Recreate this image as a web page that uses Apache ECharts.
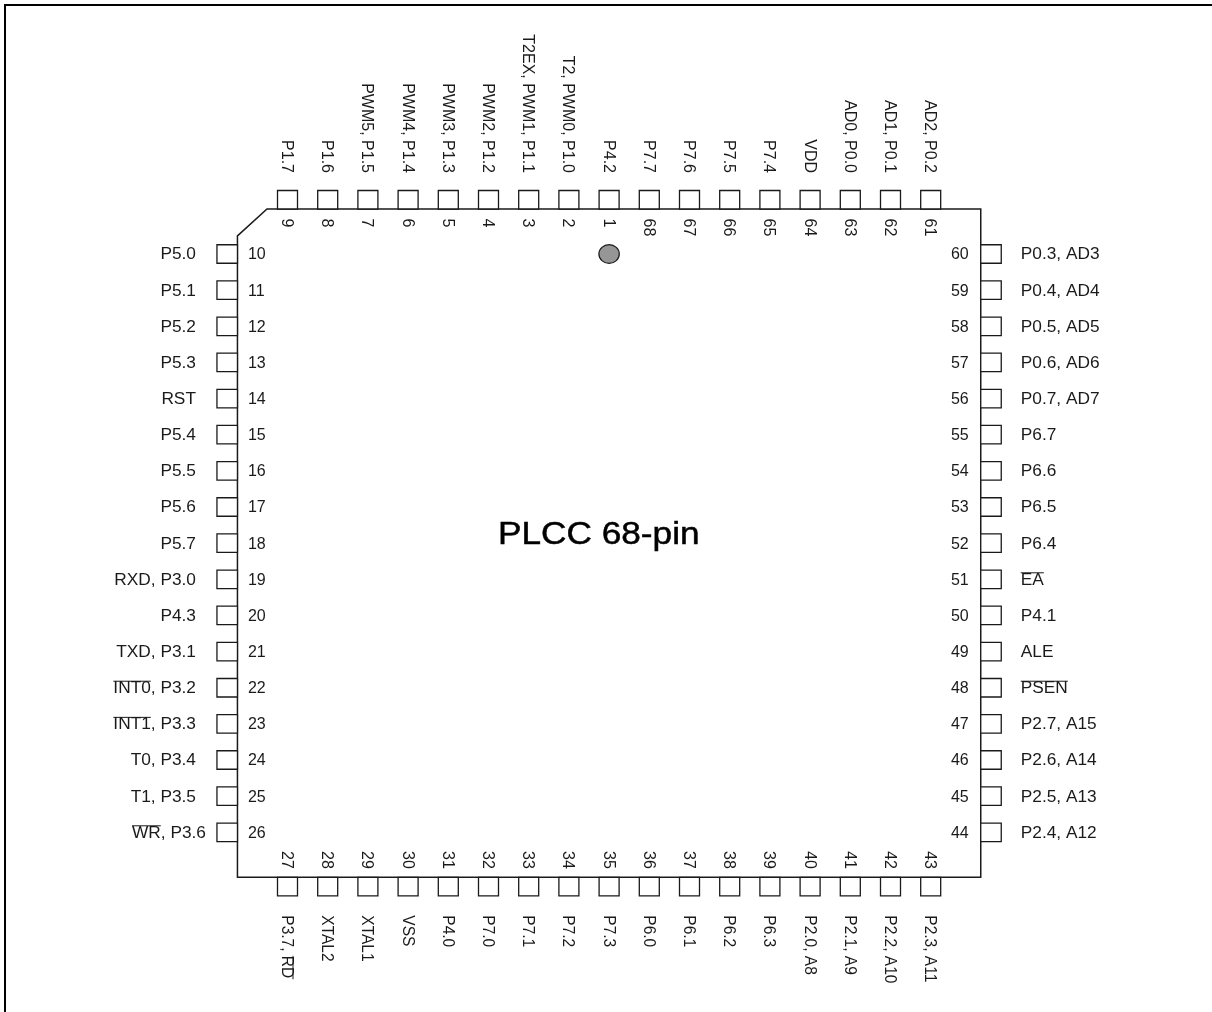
<!DOCTYPE html>
<html><head><meta charset="utf-8">
<style>html,body{margin:0;padding:0;background:#fff}#c{width:1212px;height:1012px}</style>
<script src="https://cdn.jsdelivr.net/npm/echarts@6/dist/echarts.min.js"></script>
</head><body><div id="c"></div>
<script>
// Pins per side, in slot order (~ marks an overbar)
const topNumbers = [9,8,7,6,5,4,3,2,1,68,67,66,65,64,63,62,61];
const topNames = ['P1.7','P1.6','PWM5, P1.5','PWM4, P1.4','PWM3, P1.3','PWM2, P1.2','T2EX, PWM1, P1.1','T2, PWM0, P1.0','P4.2','P7.7','P7.6','P7.5','P7.4','VDD','AD0, P0.0','AD1, P0.1','AD2, P0.2'];
const leftNumbers = [10,11,12,13,14,15,16,17,18,19,20,21,22,23,24,25,26];
const leftNames = ['P5.0','P5.1','P5.2','P5.3','RST','P5.4','P5.5','P5.6','P5.7','RXD, P3.0','P4.3','TXD, P3.1','~INT0~, P3.2','~INT1~, P3.3','T0, P3.4','T1, P3.5','~WR~, P3.6'];
const bottomNumbers = [27,28,29,30,31,32,33,34,35,36,37,38,39,40,41,42,43];
const bottomNames = ['P3.7, ~RD~','XTAL2','XTAL1','VSS','P4.0','P7.0','P7.1','P7.2','P7.3','P6.0','P6.1','P6.2','P6.3','P2.0, A8','P2.1, A9','P2.2, A10','P2.3, A11'];
const rightNumbers = [60,59,58,57,56,55,54,53,52,51,50,49,48,47,46,45,44];
const rightNames = ['P0.3, AD3','P0.4, AD4','P0.5, AD5','P0.6, AD6','P0.7, AD7','P6.7','P6.6','P6.5','P6.4','~EA~','P4.1','ALE','~PSEN~','P2.7, A15','P2.6, A14','P2.5, A13','P2.4, A12'];
const chipTitle = 'PLCC 68-pin';
const bodyMin = -1.245, bodyMax = 17.245;   // package outline in pin-slot units
const outlineX = [-0.51, 17.245, 17.245, -1.245, -1.245];
const outlineY = [-1.245, -1.245, 17.245, 17.245, -0.5];
const pinOneMark = [8, 0];

const INK = '#1a1a1a', FONT = '16px "Liberation Sans", Arial, sans-serif';
const H_SCALE = 1.08, B_SCALE = 0.97;
const ctx = document.createElement('canvas').getContext('2d');
ctx.font = FONT;
const tw = s => ctx.measureText(s).width;

const pins = [];
const addSide = (side, nums, names) => nums.forEach((n, i) => {
  const anchor = side === 'top' ? [i, bodyMin] : side === 'bottom' ? [i, bodyMax]
               : side === 'left' ? [bodyMin, i] : [bodyMax, i];
  pins.push({ side, number: String(n), name: names[i], value: anchor });
});
addSide('top', topNumbers, topNames);
addSide('left', leftNumbers, leftNames);
addSide('bottom', bottomNumbers, bottomNames);
addSide('right', rightNumbers, rightNames);

function label(text, x, y, rot, align, scale) {
  return { type: 'text', x, y, rotation: rot ? -Math.PI / 2 : 0, scaleX: scale,
    style: { text, x: 0, y: 0, font: FONT, fill: INK, align, verticalAlign: 'middle' } };
}
// name split at ~ marks: plain text and the overbar's extent along the reading direction
function parseName(raw) {
  const parts = raw.split('~');
  const text = parts.join('');
  if (parts.length < 3) return { text };
  return { text, from: tw(parts[0]), to: tw(parts[0] + parts[1]), total: tw(text) };
}
const line = (x1, y1, x2, y2, w) => ({ type: 'line', shape: { x1, y1, x2, y2 },
  style: { stroke: INK, lineWidth: w || 1, fill: null } });

function renderPin(params, api) {
  const p = pins[params.dataIndex];
  const [x, y] = api.coord([api.value(0), api.value(1)]);
  const n = parseName(p.name), kids = [];
  const pad = (a, b, w, h) => ({ type: 'rect', shape: { x: a, y: b, width: w, height: h },
    style: { fill: '#fff', stroke: INK, lineWidth: 1.3 } });
  if (p.side === 'top') {
    kids.push(pad(x - 10, y - 18.5, 20, 18.5));
    kids.push(label(n.text, x - 1, y - 36, true, 'right', 1));
    kids.push(label(p.number, x - 1, y + 9.5, true, 'left', 1));
  } else if (p.side === 'bottom') {
    kids.push(pad(x - 10, y, 20, 18.5));
    kids.push(label(n.text, x - 1, y + 38, true, 'left', B_SCALE));
    kids.push(label(p.number, x - 1, y - 8.5, true, 'right', 1));
    if (n.to) kids.push(line(x + 5.5, y + 38 + n.from * B_SCALE, x + 5.5, y + 38 + n.to * B_SCALE + 1));
  } else if (p.side === 'left') {
    const end = x - 41.5 + (p.number === '26' ? 10 : 0);
    kids.push(pad(x - 20.5, y - 9.25, 20.5, 18.5));
    kids.push(label(n.text, end, y + 1, false, 'right', H_SCALE));
    kids.push(label(p.number, x + 10.5, y + 1, false, 'left', 1));
    if (n.to) {
      const s = end - n.total * H_SCALE;
      kids.push(line(s + n.from * H_SCALE, y - 6.5, s + n.to * H_SCALE, y - 6.5));
    }
  } else {
    kids.push(pad(x, y - 9.25, 20.5, 18.5));
    kids.push(label(n.text, x + 40, y + 1, false, 'left', H_SCALE));
    kids.push(label(p.number, x - 12, y + 1, false, 'right', 1));
    if (n.to) kids.push(line(x + 40 + n.from * H_SCALE, y - 6.5, x + 40 + n.to * H_SCALE, y - 6.5));
  }
  return { type: 'group', children: kids };
}

const chart = echarts.init(document.getElementById('c'), null, { renderer: 'canvas' });
chart.setOption({
  animation: false,
  backgroundColor: '#fff',
  grid: { left: 287.5, top: 254, width: 643.2, height: 578.3 },
  xAxis: { type: 'value', min: 0, max: 16, show: false },
  yAxis: { type: 'value', min: 0, max: 16, inverse: true, show: false },
  graphic: [{ type: 'polyline', silent: true, z: 10,
    shape: { points: [[5, 1012], [5, 5], [1212, 5]] },
    style: { stroke: '#000', lineWidth: 2, fill: null } },
    { type: 'text', silent: true, z: 10, x: 498, y: 535, scaleX: 1.1,
      style: { text: chipTitle, font: '32px "Liberation Sans", Arial, sans-serif', fill: '#000',
               stroke: '#000', lineWidth: 0.5, align: 'left', verticalAlign: 'middle' } }],
  series: [
    { type: 'custom', silent: true, coordinateSystem: 'cartesian2d', z: 1,
      data: outlineX.map((v, i) => [v, outlineY[i]]),
      renderItem(params, api) {
        if (params.dataIndex !== 0) return null;
        const pts = outlineX.map((v, i) => api.coord([v, outlineY[i]]));
        return { type: 'polygon', shape: { points: pts },
                 style: { fill: '#fff', stroke: INK, lineWidth: 1.5 } };
      } },
    { type: 'custom', silent: true, coordinateSystem: 'cartesian2d', z: 2,
      data: pins.map(p => p.value), renderItem: renderPin },
    { type: 'custom', silent: true, coordinateSystem: 'cartesian2d', z: 3,
      data: [pinOneMark],
      renderItem(params, api) {
        const [cx, cy] = api.coord([api.value(0), api.value(1)]);
        return { type: 'ellipse', shape: { cx, cy, rx: 10.2, ry: 9.3 },
                 style: { fill: '#969696', stroke: INK, lineWidth: 1.2 } };
      } }
  ]
});
</script></body></html>
